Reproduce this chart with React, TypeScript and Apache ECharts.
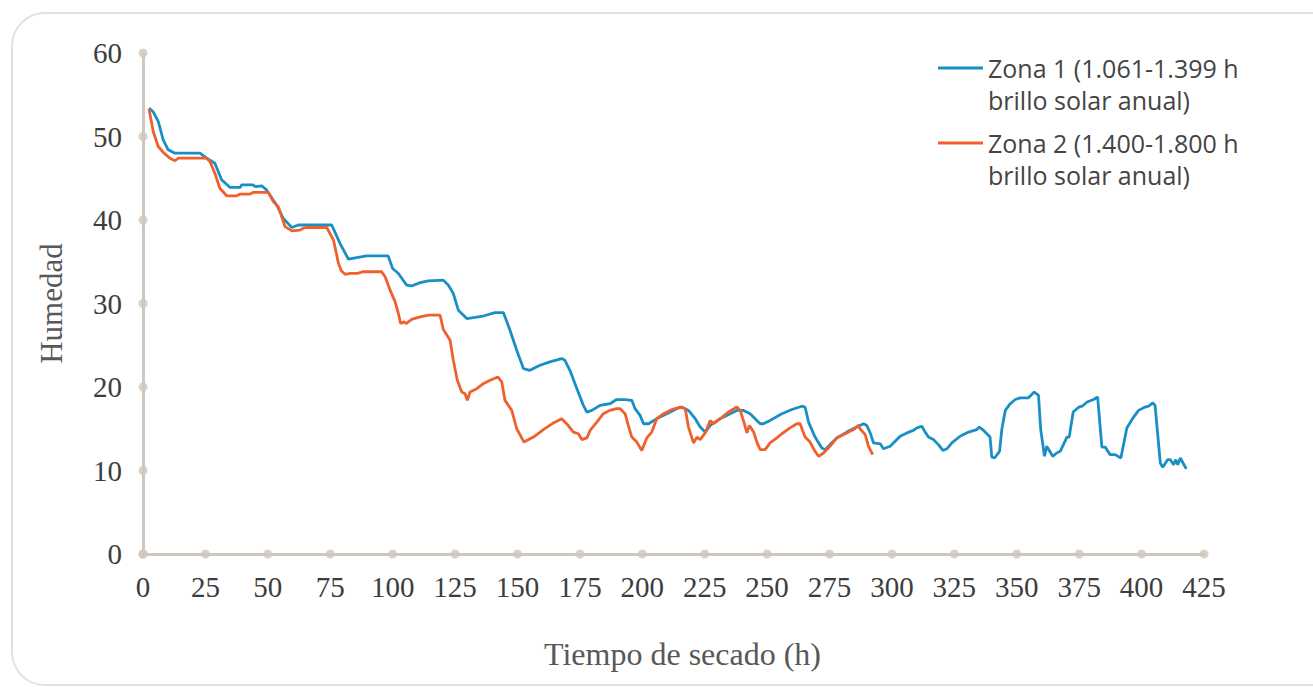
import React, { useEffect, useRef } from "react";
import * as echarts from "echarts";

const zona1Name = "Zona 1 (1.061-1.399 h\nbrillo solar anual)";
const zona2Name = "Zona 2 (1.400-1.800 h\nbrillo solar anual)";

const xTicks = [0, 25, 50, 75, 100, 125, 150, 175, 200, 225, 250, 275, 300, 325, 350, 375, 400, 425];
const yTicks = [0, 10, 20, 30, 40, 50, 60];

const zona1: number[][] = [
  [2.4, 53.4], [4, 53], [6.1, 51.8], [8.1, 49.6], [10.1, 48.4], [12.8, 48.0], [22.8, 48.0], [25.5, 47.4],
  [28.8, 46.8], [31.5, 44.8], [34.9, 43.9], [38.9, 43.9], [39.5, 44.2], [44, 44.2], [45, 44.0], [47.5, 44.1],
  [49.5, 43.6], [53.5, 41.8], [56.2, 40.2], [59.6, 39.1], [62.2, 39.4], [75.6, 39.4], [78.9, 37.2], [82.3, 35.3],
  [85.6, 35.5], [89.6, 35.7], [98.2, 35.7], [100, 34.2], [102.3, 33.6], [105.6, 32.2], [107.6, 32.1], [111, 32.5],
  [114.3, 32.7], [120.3, 32.8], [122.3, 32.2], [124.3, 31.2], [126.3, 29.2], [129.7, 28.2], [136.3, 28.5], [141, 28.9],
  [144.4, 28.9], [147, 26.8], [149.7, 24.4], [152.4, 22.2], [155, 22.0], [159, 22.6], [163, 23.0], [167.7, 23.4],
  [169, 23.2], [171, 22.0], [173.8, 19.8], [176.4, 17.8], [177.8, 17.0], [179.8, 17.2], [183.1, 17.8], [187.1, 18.0],
  [189.7, 18.5], [193.1, 18.5], [195.8, 18.4], [197.1, 17.4], [199.1, 16.6], [200.5, 15.6], [202.5, 15.6], [205.8, 16.2],
  [209.8, 16.8], [213.8, 17.4], [215.8, 17.6], [218.5, 17.2], [221.2, 16.2], [223.2, 15.2], [225.2, 14.6], [227.2, 15.4],
  [231.2, 16.2], [235.2, 16.8], [237.9, 17.2], [240.5, 17.2], [243.2, 16.8], [245.2, 16.2], [247.2, 15.6], [248.5, 15.6],
  [251.2, 16.0], [255.9, 16.8], [259.9, 17.3], [263.9, 17.7], [265.2, 17.6], [266.6, 15.8], [269.2, 14.0], [271.9, 12.7],
  [273.2, 12.5], [275.2, 13.1], [277.9, 13.9], [281.9, 14.6], [285.9, 15.2], [288.6, 15.6], [289.9, 15.4], [291.3, 14.5],
  [292.6, 13.3], [295.3, 13.2], [296.6, 12.6], [299.3, 12.9], [301.3, 13.5], [303.3, 14.1], [306, 14.5], [308.6, 14.8],
  [310, 15.1], [312, 15.3], [312.9, 14.8], [314.6, 14.0], [316.6, 13.7], [318.6, 13.1], [320.4, 12.4], [322, 12.6],
  [324, 13.3], [327.3, 14.1], [330.7, 14.6], [334, 14.9], [335, 15.2], [336.7, 14.8], [339.3, 14.0], [340, 11.6],
  [341.1, 11.5], [343.1, 12.3], [344, 14.9], [345.4, 17.2], [347.4, 18.0], [349.4, 18.5], [351.4, 18.7], [354.7, 18.7],
  [357, 19.4], [358.7, 19.0], [359.6, 14.9], [361.1, 11.7], [362, 12.9], [364.4, 11.7], [366, 12.1], [367.4, 12.3],
  [370.1, 14.0], [371, 14.0], [372.6, 17.0], [374.9, 17.6], [376.2, 17.7], [378.2, 18.2], [380.8, 18.5], [382.4, 18.8],
  [384.1, 12.8], [385.4, 12.8], [387.4, 11.9], [389.4, 11.9], [391.7, 11.5], [394.1, 15.1], [396.8, 16.4], [398.8, 17.2],
  [401.4, 17.6], [402.8, 17.7], [404.5, 18.1], [405.4, 17.8], [407.5, 10.9], [408.5, 10.4], [410.4, 11.3], [411.5, 11.3],
  [412.8, 10.7], [413.7, 11.3], [414.5, 10.7], [415.5, 11.5], [417.9, 10.2],
];

const zona2: number[][] = [
  [2.4, 53.3], [4.1, 50.6], [6.1, 48.8], [8.1, 48.1], [10.8, 47.4], [12.8, 47.1], [14.2, 47.4], [25.5, 47.4],
  [26.8, 47.0], [28.8, 45.6], [30.8, 43.8], [33.5, 42.9], [37.5, 42.9], [38.9, 43.1], [42.9, 43.1], [44, 43.3],
  [50.2, 43.3], [52.2, 42.2], [54.2, 41.6], [56.9, 39.2], [59.6, 38.7], [62.9, 38.8], [64.9, 39.1], [73.6, 39.1],
  [76.3, 37.6], [78.3, 34.8], [79.5, 33.9], [81, 33.5], [83, 33.6], [86, 33.6], [88, 33.8], [95.6, 33.8],
  [97, 33.2], [99, 31.6], [101, 30.2], [102.3, 28.8], [103.2, 27.6], [104.6, 27.8], [105.4, 27.6], [107.6, 28.1],
  [111, 28.4], [114.3, 28.6], [119, 28.6], [120.3, 26.9], [123, 25.6], [124.3, 23.2], [125.9, 20.8], [127.7, 19.4],
  [129, 19.2], [129.9, 18.4], [131, 19.4], [133.7, 19.8], [136.3, 20.4], [139, 20.8], [142.1, 21.2], [143.7, 20.6],
  [145, 18.4], [147.7, 17.2], [149.7, 15.0], [152.6, 13.4], [156.4, 14.0], [160.4, 14.9], [164.4, 15.7], [167.7, 16.2],
  [169.7, 15.6], [172.4, 14.6], [174.4, 14.4], [175.8, 13.7], [177.8, 13.9], [179.1, 14.8], [181.8, 15.8], [184.4, 16.8],
  [187, 17.2], [189.7, 17.4], [191.1, 17.4], [193.1, 16.8], [194.4, 15.4], [195.8, 14.0], [197.8, 13.4], [199.8, 12.4],
  [201.8, 13.9], [203.8, 14.6], [205.8, 16.2], [208.5, 16.8], [211.9, 17.3], [215.2, 17.6], [217.2, 17.4], [218.5, 15.2],
  [220.5, 13.3], [221.9, 14.0], [223.2, 13.7], [225.2, 14.5], [227.2, 16.0], [228.5, 15.6], [231.2, 16.2], [234.5, 17.0],
  [237.9, 17.6], [239.2, 17.2], [240.5, 16.0], [241.9, 14.5], [242.9, 15.4], [244.6, 14.6], [245.9, 13.4], [247.2, 12.5],
  [249.2, 12.5], [251.2, 13.3], [253.9, 13.9], [255.9, 14.4], [259.2, 15.1], [261.9, 15.6], [263.2, 15.6], [265.2, 14.0],
  [267.2, 13.4], [269.2, 12.3], [270.6, 11.7], [272.6, 12.1], [275.2, 12.9], [277.9, 13.9], [281.9, 14.5], [284.6, 14.9],
  [286.6, 15.4], [287.2, 15.0], [289.3, 14.3], [290.6, 12.9], [292.3, 11.9],
];

const BLUE = "#1a8fc6";
const ORANGE = "#f0602f";
const AXIS = "#cfc7bd";
const LABEL = "#3d3d3d";
const TITLE = "#585858";
const SERIF = "Liberation Serif";

export default function App() {
  const ref = useRef<HTMLDivElement>(null);
  useEffect(() => {
    if (!ref.current) return;
    const chart = echarts.init(ref.current, undefined, { renderer: "svg" });
    const tickDots = [
      ...xTicks.map((x) => [x, 0]),
      ...yTicks.map((y) => [0, y]),
    ];
    chart.setOption({
      animation: false,
      grid: { left: 143, right: 109, top: 53, bottom: 133, containLabel: false },
      legend: {
        data: [zona1Name, zona2Name],
        orient: "vertical",
        left: 938,
        top: 20,
        padding: 0,
        icon: "rect",
        itemWidth: 45,
        itemHeight: 3,
        itemGap: -21,
        selectedMode: false,
        formatter: (name: string) => "\n" + name,
        textStyle: {
          fontFamily: "Open Sans",
          fontSize: 25,
          color: "#444444",
          lineHeight: 32,
        },
      },
      xAxis: {
        type: "value",
        min: 0,
        max: 425,
        interval: 25,
        name: "Tiempo de secado (h)",
        nameLocation: "middle",
        nameGap: 84,
        nameTextStyle: { fontFamily: SERIF, fontSize: 32, color: TITLE, padding: [0, 0, 0, 18] },
        axisLine: { show: true, lineStyle: { color: AXIS, width: 3 } },
        axisTick: { show: false },
        splitLine: { show: false },
        axisLabel: { margin: 18, fontFamily: SERIF, fontSize: 29, color: LABEL },
      },
      yAxis: {
        type: "value",
        min: 0,
        max: 60,
        interval: 10,
        name: "Humedad",
        nameLocation: "middle",
        nameGap: 76,
        nameTextStyle: { fontFamily: SERIF, fontSize: 31, color: TITLE },
        axisLine: { show: true, lineStyle: { color: AXIS, width: 3 } },
        axisTick: { show: false },
        splitLine: { show: false },
        axisLabel: { margin: 21, fontFamily: SERIF, fontSize: 29, color: LABEL },
      },
      series: [
        {
          type: "scatter",
          data: tickDots,
          symbolSize: 9,
          itemStyle: { color: AXIS },
          silent: true,
          z: 1,
        },
        {
          name: zona1Name,
          type: "line",
          data: zona1,
          showSymbol: false,
          smooth: false,
          lineStyle: { color: BLUE, width: 2.8 },
          itemStyle: { color: BLUE },
          z: 3,
        },
        {
          name: zona2Name,
          type: "line",
          data: zona2,
          showSymbol: false,
          smooth: false,
          lineStyle: { color: ORANGE, width: 2.8 },
          itemStyle: { color: ORANGE },
          z: 4,
        },
      ],
    });
    return () => chart.dispose();
  }, []);

  return (
    <div style={{ position: "fixed", left: 0, top: 0, width: 1313, height: 687, background: "#ffffff", overflow: "hidden" }}>
      <div
        style={{
          position: "absolute",
          left: 11,
          top: 12,
          width: 1340,
          height: 674,
          border: "2px solid #e6e0d6",
          borderRadius: 34,
          boxSizing: "border-box",
        }}
      />
      <div ref={ref} style={{ position: "absolute", left: 0, top: 0, width: 1313, height: 687 }} />
    </div>
  );
}
